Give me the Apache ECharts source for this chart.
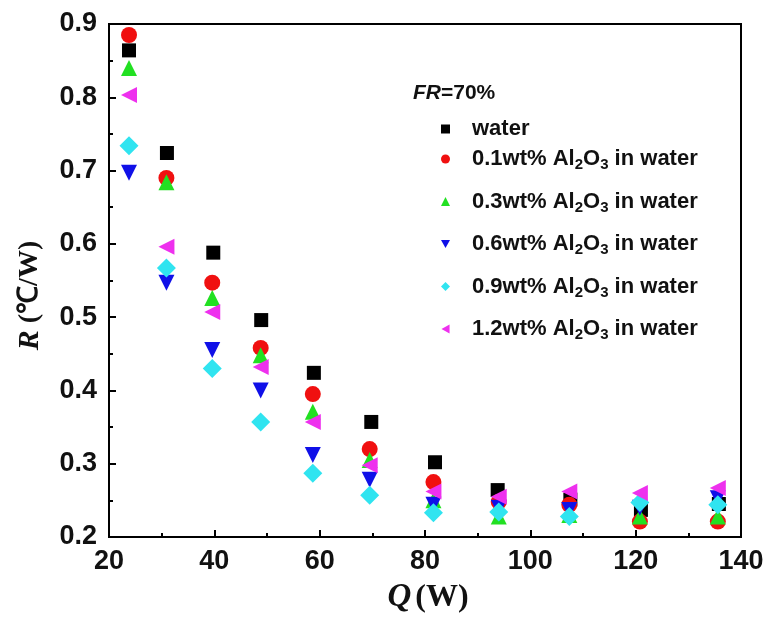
<!DOCTYPE html>
<html>
<head>
<meta charset="utf-8">
<script src="https://cdn.jsdelivr.net/npm/echarts@6/dist/echarts.min.js"></script>
<style>
  html, body { margin: 0; padding: 0; background: #fff; }
  #chart { width: 767px; height: 619px; }
</style>
</head>
<body>
<div id="chart"></div>
<script>
// heat input Q (W)
var qWater = [23.8, 31.0, 39.8, 48.9, 58.9, 69.8, 81.9, 93.8, 107.6, 121.0, 135.8];
var qNano  = [23.8, 30.9, 39.6, 48.8, 58.7, 69.5, 81.6, 94.0, 107.4, 120.8, 135.6];

// thermal resistance R (°C/W)
var rWater = [0.864, 0.724, 0.588, 0.496, 0.424, 0.357, 0.302, 0.264, 0.251, 0.237, 0.245];
var r01    = [0.885, 0.690, 0.547, 0.458, 0.395, 0.320, 0.275, 0.248, 0.244, 0.221, 0.221];
var r03    = [0.840, 0.684, 0.526, 0.448, 0.371, 0.305, 0.250, 0.228, 0.230, 0.228, 0.228];
var r06    = [0.697, 0.547, 0.455, 0.400, 0.312, 0.278, 0.244, 0.240, 0.237, 0.240, 0.253];
var r09    = [0.734, 0.567, 0.430, 0.357, 0.287, 0.257, 0.233, 0.234, 0.228, 0.247, 0.244];
var r12    = [0.803, 0.596, 0.507, 0.432, 0.357, 0.298, 0.262, 0.255, 0.262, 0.260, 0.267];

var xTicks = [20, 40, 60, 80, 100, 120, 140];
var yTicks = [0.2, 0.3, 0.4, 0.5, 0.6, 0.7, 0.8, 0.9];

var seriesNames = ['water', '0.1wt%', '0.3wt%', '0.6wt%', '0.9wt%', '1.2wt%'];

// legend icons for the rotated triangles
var iconDown = 'path://M0,0 L10,0 L5,9 Z';
var iconLeft = 'path://M9,0 L9,10 L0,5 Z';

function pairs(xs, ys) {
    var out = [];
    for (var i = 0; i < ys.length; i++) out.push([xs[i], ys[i]]);
    return out;
}

function legendText(name) {
    if (name === 'water') return '{b|water}';
    return '{b|' + name + ' Al}{s|2}{b|O}{s|3}{b| in water}';
}

var richLegend = {
    b: { fontSize: 22, fontWeight: 'bold', fontFamily: 'Liberation Sans', color: '#111' },
    s: { fontSize: 15, fontWeight: 'bold', fontFamily: 'Liberation Sans', color: '#111', verticalAlign: 'bottom', padding: [12, 0, 0, 0] }
};

var myechart = echarts.init(document.getElementById('chart'));

var options = {
    animation: false,
    backgroundColor: '#fff',
    grid: {
        left: 109, top: 24, right: 26, bottom: 82,
        outerBoundsMode: 'none', containLabel: false,
        show: true, borderColor: '#000', borderWidth: 2, backgroundColor: 'transparent'
    },
    graphic: [{
        type: 'text',
        left: 413, top: 83,
        style: {
            text: '{i|FR}{n|=70%}',
            rich: {
                i: { fontSize: 21, fontWeight: 'bold', fontStyle: 'italic', fontFamily: 'Liberation Sans', fill: '#111' },
                n: { fontSize: 21, fontWeight: 'bold', fontFamily: 'Liberation Sans', fill: '#111' }
            }
        }
    }],
    legend: [{
        data: ['water'],
        orient: 'vertical',
        left: 436, top: 113,
        itemWidth: 9, itemHeight: 9,
        formatter: legendText,
        textStyle: { padding: [0, 0, 0, 17], rich: richLegend }
    }, {
        data: [
            { name: '0.1wt%' },
            { name: '0.3wt%' },
            { name: '0.6wt%', icon: iconDown },
            { name: '0.9wt%' },
            { name: '1.2wt%', icon: iconLeft }
        ],
        orient: 'vertical',
        left: 436, top: 143,
        itemWidth: 9, itemHeight: 9,
        itemGap: 18,
        formatter: legendText,
        textStyle: { padding: [0, 0, 0, 17], rich: richLegend }
    }],
    xAxis: {
        type: 'value',
        min: 20, max: 140, interval: 20,
        name: '{q|Q}{w|(W)}',
        nameLocation: 'middle',
        nameGap: 44,
        nameMoveOverlap: false,
        nameTextStyle: {
            padding: [0, 0, 0, 6],
            rich: {
                q: { fontSize: 33, fontWeight: 'bold', fontStyle: 'italic', fontFamily: 'Liberation Serif', color: '#111', padding: [0, 4, 0, 0] },
                w: { fontSize: 32, fontWeight: 'bold', fontFamily: 'Liberation Serif', color: '#111' }
            }
        },
        axisLine: { show: true, lineStyle: { color: '#000', width: 2 } },
        axisTick: { inside: true, length: 7, lineStyle: { color: '#000', width: 2 } },
        minorTick: { show: true, splitNumber: 2, length: 4, lineStyle: { color: '#000', width: 2 } },
        splitLine: { show: false },
        axisLabel: {
            margin: 11, fontSize: 27, fontWeight: 'bold', fontFamily: 'Liberation Sans', color: '#111',
            customValues: xTicks
        }
    },
    yAxis: {
        type: 'value',
        min: 0.2, max: 0.9, interval: 0.1,
        name: '{r|R}{u| (℃/W)}',
        nameLocation: 'middle',
        nameGap: 64,
        nameMoveOverlap: false,
        nameTextStyle: {
            padding: [0, 30, 0, 0],
            rich: {
                r: { fontSize: 30, fontWeight: 'bold', fontStyle: 'italic', fontFamily: 'Liberation Serif', color: '#111' },
                u: { fontSize: 28, fontWeight: 'bold', fontFamily: 'Liberation Serif', color: '#111' }
            }
        },
        axisLine: { show: true, lineStyle: { color: '#000', width: 2 } },
        axisTick: { inside: true, length: 7, lineStyle: { color: '#000', width: 2 } },
        minorTick: { show: true, splitNumber: 2, length: 4, lineStyle: { color: '#000', width: 2 } },
        splitLine: { show: false },
        axisLabel: {
            margin: 12, fontSize: 27, fontWeight: 'bold', fontFamily: 'Liberation Sans', color: '#111',
            formatter: function (v) { return v.toFixed(1); }
        }
    },
    series: [
        { name: 'water',  type: 'scatter', data: pairs(qWater, rWater), symbol: 'rect', symbolSize: 14, itemStyle: { color: '#000000', opacity: 1 } },
        { name: '0.1wt%', type: 'scatter', data: pairs(qNano, r01), symbol: 'circle', symbolSize: 16, itemStyle: { color: '#f01010', opacity: 1 } },
        { name: '0.3wt%', type: 'scatter', data: pairs(qNano, r03), symbol: 'triangle', symbolSize: 16, itemStyle: { color: '#22e022', opacity: 1 } },
        { name: '0.6wt%', type: 'scatter', data: pairs(qNano, r06), symbol: 'triangle', symbolRotate: 180, symbolSize: 16, itemStyle: { color: '#1010e8', opacity: 1 } },
        { name: '0.9wt%', type: 'scatter', data: pairs(qNano, r09), symbol: 'diamond', symbolSize: 19, itemStyle: { color: '#30e4f0', opacity: 1 } },
        { name: '1.2wt%', type: 'scatter', data: pairs(qNano, r12), symbol: 'triangle', symbolRotate: 90, symbolSize: 16, itemStyle: { color: '#ee30ee', opacity: 1 } }
    ]
};
myechart.setOption(options);
</script>
</body>
</html>
